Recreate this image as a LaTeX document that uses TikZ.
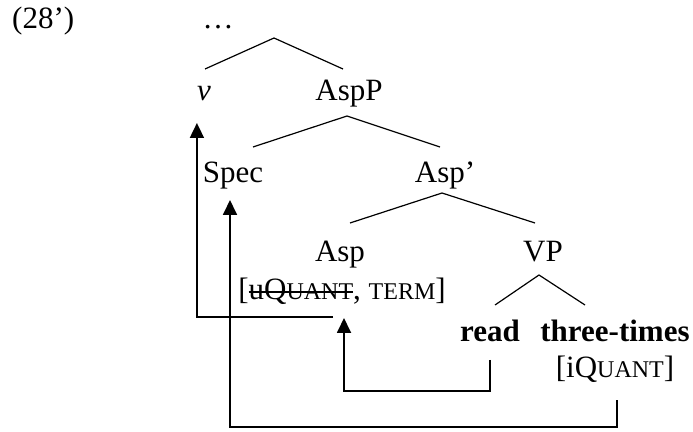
\documentclass[tikz,border=0pt]{standalone}
\usepackage{fontspec}
\setmainfont{Liberation Serif}
\usetikzlibrary{arrows.meta,calc}
\newcommand{\smc}[1]{{\fontsize{24}{28}\selectfont #1}}
\newcommand{\strike}[1]{\setbox0=\hbox{#1}\rlap{\vrule height 8.8pt depth -7.2pt width \wd0}\box0}

\begin{document}
\begin{tikzpicture}[x=1pt, y=1pt,
            every node/.style={inner sep=0pt, anchor=base, font=\fontsize{31}{36}\selectfont},
            branch/.style={draw, line width=1.2pt},
            move/.style={draw, line width=1.8pt, -{Triangle[width=14pt,length=15pt]}}]
        \useasboundingbox (0,0) rectangle (693,431);
        % labels
        \node[anchor=base west] (ex) at (12,402) {(28’)};
        \node (dots) at (218,402) {…};
        \node (v) at (204,330) {\textit{v}};
        \node (aspp) at (349,330) {AspP};
        \node (spec) at (233,248) {Spec};
        \node (aspbar) at (445,248) {Asp’};
        \node (asp) at (340,169) {Asp};
        \node (vp) at (543,169) {VP};
        \node (uterm) at (342,131) {[\strike{uQ\smc{UANT}}, \smc{TERM}]};
        \node (read) at (490,89) {\textbf{read}};
        \node (three) at (615,89) {\textbf{three-times}};
        \node (iquant) at (615,53) {[iQ\smc{UANT}]};
        % branches
        \draw[branch] ([shift={(1pt,32pt)}]v.base) -- ([shift={(56pt,-9pt)}]dots.base) -- ([shift={(-6pt,32pt)}]aspp.base);
        \draw[branch] ([shift={(20pt,36pt)}]spec.base) -- ([shift={(-2pt,-15pt)}]aspp.base) -- ([shift={(-5pt,36pt)}]aspbar.base);
        \draw[branch] ([shift={(10pt,39pt)}]asp.base) -- ([shift={(-3pt,-10pt)}]aspbar.base) -- ([shift={(-8pt,39pt)}]vp.base);
        \draw[branch] ([shift={(5pt,37pt)}]read.base) -- ([shift={(-4pt,-13pt)}]vp.base) -- ([shift={(-30pt,37pt)}]three.base);
        % movement
        \draw[move] ([yshift=-18pt]read.base) -- ++(0,-31) -| ([shift={(2pt,-18pt)}]uterm.base);
        \draw[move] ([shift={(-9pt,-17pt)}]uterm.base) -| ([yshift=-22pt]v.base west);
        \draw[move] ([shift={(2pt,-22pt)}]iquant.base) -- ++(0,-27) -| ([shift={(-3pt,-17pt)}]spec.base);
\end{tikzpicture}
\end{document}
